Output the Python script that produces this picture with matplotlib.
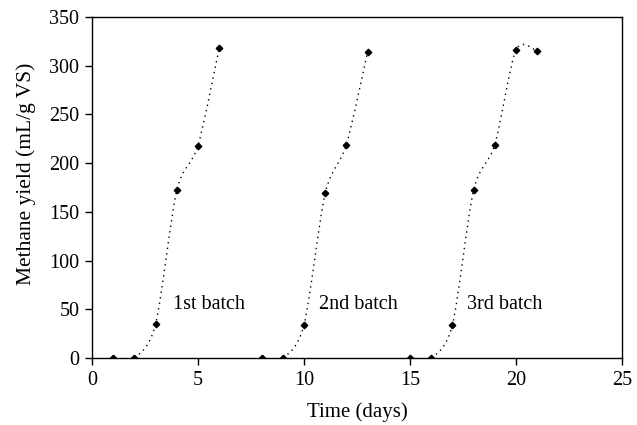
import numpy as np
import matplotlib.pyplot as plt
from matplotlib.path import Path
from matplotlib.patches import PathPatch

plt.rcParams['font.family'] = ['Liberation Serif', 'DejaVu Serif']

# days and methane yield (mL/g VS) for each batch
days1 = [1, 2, 3, 4, 5, 6]
yield1 = [0, 0, 35, 172, 218, 318]
days2 = [8, 9, 10, 11, 12, 13]
yield2 = [0, 0, 34, 169, 219, 314]
days3 = [15, 16, 17, 18, 19, 20, 21]
yield3 = [0, 0, 34, 172, 219, 316, 315]

labels = ["1st batch", "2nd batch", "3rd batch"]
label_x = [3.8, 10.7, 17.7]
label_y = [55, 55, 55]


def smooth_path(x, y, k=1/7.0):
    # Excel-like smoothed line: cubic bezier through the points
    x = np.asarray(x, float)
    y = np.asarray(y, float)
    pts = np.column_stack([x, y])
    verts = [pts[0]]
    codes = [Path.MOVETO]
    n = len(pts)
    for i in range(n - 1):
        p0 = pts[max(i - 1, 0)]
        p1 = pts[i]
        p2 = pts[i + 1]
        p3 = pts[min(i + 2, n - 1)]
        c1 = p1 + (p2 - p0) * k
        c2 = p2 - (p3 - p1) * k
        verts += [c1, c2, p2]
        codes += [Path.CURVE4] * 3
    return Path(verts, codes)


fig = plt.figure(figsize=(6.37, 4.25), dpi=100)
ax = fig.add_axes([0.1444, 0.1576, 0.832, 0.8024])

for xs, ys in [(days1, yield1), (days2, yield2), (days3, yield3)]:
    patch = PathPatch(smooth_path(xs, ys), facecolor='none', edgecolor='black',
                      linewidth=1.0, linestyle=(0, (1, 3)))
    ax.add_patch(patch)
    ax.plot(xs, ys, linestyle='none', marker='D', markersize=3.3, color='black')

fs = 14.5
for t, lx, ly in zip(labels, label_x, label_y):
    ax.text(lx, ly, t, fontsize=fs, va='center', ha='left')

ax.set_xlim(0, 25)
ax.set_ylim(0, 350)
ax.set_xticks(range(0, 26, 5))
ax.set_yticks(range(0, 351, 50))
ax.tick_params(direction='out', length=5, width=1, labelsize=fs, pad=4)
for s in ax.spines.values():
    s.set_linewidth(1)
ax.set_xlabel("Time (days)", fontsize=15, labelpad=9)
ax.set_ylabel("Methane yield (mL/g VS)", fontsize=15.5)
ax.yaxis.set_label_coords(-0.106, 0.54)

fig.savefig("out.png", dpi=100)
